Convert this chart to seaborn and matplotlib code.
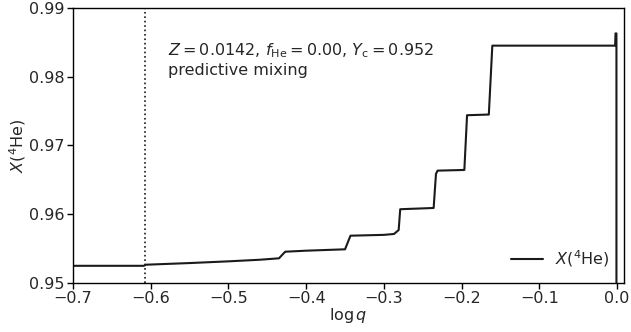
import numpy as np
import pandas as pd
import matplotlib
matplotlib.use("Agg")
import matplotlib.pyplot as plt
import seaborn as sns

# data
log_q = [-0.700, -0.609, -0.606, -0.550, -0.500, -0.460, -0.435, -0.427, -0.400,
         -0.350, -0.343, -0.300, -0.287, -0.281, -0.279, -0.236, -0.233, -0.231,
         -0.1965, -0.193, -0.165, -0.1605, -0.0025, -0.0020, -0.0008, -0.0008]
x_he4 = [0.9525, 0.9525, 0.95266, 0.95290, 0.95315, 0.95338, 0.95359, 0.95455, 0.95470,
         0.95490, 0.95688, 0.95700, 0.95713, 0.95770, 0.96073, 0.96091, 0.96585, 0.96634,
         0.96644, 0.97440, 0.97450, 0.98452, 0.98452, 0.98630, 0.98630, 0.30]
boundary_log_q = -0.607
x_ticks = [-0.7, -0.6, -0.5, -0.4, -0.3, -0.2, -0.1, 0.0]
y_ticks = [0.95, 0.96, 0.97, 0.98, 0.99]
label_text = "$Z = 0.0142$, $f_\\mathrm{He} = 0.00$, $Y_\\mathrm{c} = 0.952$\npredictive mixing"

sns.set_style("ticks")
plt.rcParams["font.family"] = ["DejaVu Sans"]
plt.rcParams["font.size"] = 12
plt.rcParams["mathtext.fontset"] = "dejavusans"

df = pd.DataFrame({"logq": log_q, "X": x_he4})

fig = plt.figure(figsize=(6.31, 3.32), dpi=100)
ax = fig.add_axes([0.1157, 0.1476, 0.8733, 0.8284])

sns.lineplot(data=df, x="logq", y="X", ax=ax, sort=False, estimator=None,
             color="#1a1a1a", linewidth=1.5, label="$X(^4\\mathrm{He})$")
ax.axvline(boundary_log_q, color="#1a1a1a", linestyle=":", linewidth=1.2)

ax.set_xlim(-0.7, 0.009)
ax.set_ylim(0.95, 0.99)
ax.set_xticks(x_ticks)
ax.set_xticklabels([f"{t:.1f}".replace("-", "\u2212") if t != 0 else "0.0" for t in x_ticks])
ax.set_yticks(y_ticks)
ax.set_yticklabels([f"{t:.2f}" for t in y_ticks])
ax.tick_params(axis="both", labelsize=11.5, length=4, width=1, color="black",
               direction="out", pad=2)
for s in ax.spines.values():
    s.set_color("black")
    s.set_linewidth(1)

ax.set_xlabel("$\\log q$", fontsize=11.5, labelpad=0)
ax.set_ylabel("$X(^4\\mathrm{He})$", fontsize=11.5, labelpad=1)

ax.text(-0.578, 0.9851, label_text, fontsize=11.5, va="top", ha="left", linespacing=1.2)

ax.legend(loc="lower right", frameon=False, fontsize=11.5, handlelength=2.0)

fig.savefig("out.png", dpi=100)
